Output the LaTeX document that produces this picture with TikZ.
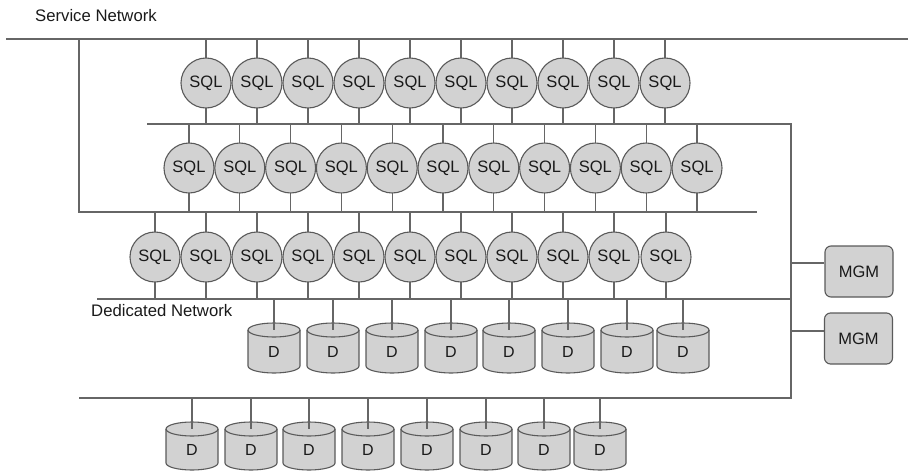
\documentclass[tikz,border=0pt]{standalone}
\usepackage{fontspec}
\setmainfont{Liberation Sans}
\definecolor{fillg}{HTML}{D2D2D2}
\definecolor{edgeg}{HTML}{5A5A5A}
\definecolor{lineg}{HTML}{666666}
\definecolor{txt}{HTML}{1A1A1A}
\tikzset{
  sqlnode/.style={circle, draw=edgeg, fill=fillg, line width=1.1pt, minimum size=50pt, inner sep=0pt, font=\fontsize{16.5}{16.5}\selectfont, text=txt},
  disktext/.style={inner sep=0pt, font=\fontsize{16}{16}\selectfont, text=txt},
  diskbody/.style={draw=edgeg, fill=fillg, line width=1.1pt},
  mgmnode/.style={rectangle, rounded corners=6pt, draw=edgeg, fill=fillg, line width=1.1pt, minimum width=68pt, minimum height=51pt, inner sep=0pt, font=\fontsize{16.5}{16.5}\selectfont, text=txt},
  bus/.style={draw=lineg, line width=1.25pt},
  lbl/.style={anchor=west, inner sep=0pt, font=\fontsize{16.7}{17}\selectfont, text=txt}
}
\begin{document}
\begin{tikzpicture}[x=1pt,y=-1pt]
\useasboundingbox (0,0) rectangle (908,472);
% labels
\node[lbl] (svc) at (35,16) {Service Network};
\node[lbl] (ded) at (91,311) {Dedicated Network};
% bus coordinates
\coordinate (snL) at (6,39);
\coordinate (snR) at (908,39);
\coordinate (v1) at (79,39);
\coordinate (b3L) at (79,212);
\coordinate (b3R) at (757,212);
\coordinate (b2L) at (147,124);
\coordinate (b2R) at (791,124);
\coordinate (b5R) at (791,398);
\coordinate (b5L) at (79,398);
\coordinate (b4L) at (97,299);
\coordinate (b4R) at (791,299);
\coordinate (j1) at (791,263);
\coordinate (j2) at (791,331);
% buses
\draw[bus] (snL) -- (snR);
\draw[bus] (v1) -- (b3L) -- (b3R);
\draw[bus] (b2L) -- (b2R) -- (b5R) -- (b5L);
\draw[bus] (b4L) -- (b4R);
% row 1
\foreach \xx [count=\k] in {206,257,308,359,410,461,512,563,614,665} {
  \draw[bus] (\xx,39) -- (\xx,124);
  \node[sqlnode] (a\k) at (\xx,83) {SQL};
}
% row 2
\foreach \xx [count=\k] in {189,239.8,290.6,341.4,392.2,443,493.8,544.6,595.4,646.2,697} {
  \draw[bus] (\xx,124) -- (\xx,212);
  \node[sqlnode] (b\k) at (\xx,168) {SQL};
}
% row 3
\foreach \xx [count=\k] in {155,206,257,308,359,410,461,512,563,614,666} {
  \draw[bus] (\xx,212) -- (\xx,299);
  \node[sqlnode] (c\k) at (\xx,257) {SQL};
}
% disks row A
\foreach \xx [count=\k] in {274,333,392,451,509,568,627,683} {
  \path[diskbody] (\xx-26,330) -- (\xx-26,366) arc[start angle=180, end angle=0, x radius=26, y radius=7]
     -- (\xx+26,330) arc[start angle=0, end angle=-180, x radius=26, y radius=7] -- cycle;
  \draw[draw=edgeg, line width=1.1pt] (\xx-26,330) arc[start angle=180, end angle=0, x radius=26, y radius=7];
  \coordinate (dAt\k) at (\xx,330);
  \node[disktext] (dA\k) at (\xx,352) {D};
  \draw[bus] (\xx,299) -- (dAt\k);
}
% disks row B
\foreach \xx [count=\k] in {192,251,309,368,427,486,544,600} {
  \path[diskbody] (\xx-26,429) -- (\xx-26,463) arc[start angle=180, end angle=0, x radius=26, y radius=7]
     -- (\xx+26,429) arc[start angle=0, end angle=-180, x radius=26, y radius=7] -- cycle;
  \draw[draw=edgeg, line width=1.1pt] (\xx-26,429) arc[start angle=180, end angle=0, x radius=26, y radius=7];
  \coordinate (dBt\k) at (\xx,429);
  \node[disktext] (dB\k) at (\xx,450) {D};
  \draw[bus] (\xx,398) -- (dBt\k);
}
% MGM
\node[mgmnode] (m1) at (859,271.5) {MGM};
\node[mgmnode] (m2) at (858.5,338.5) {MGM};
\draw[bus] (j1) -- (j1 -| m1.west);
\draw[bus] (j2) -- (j2 -| m2.west);
\end{tikzpicture}
\end{document}
